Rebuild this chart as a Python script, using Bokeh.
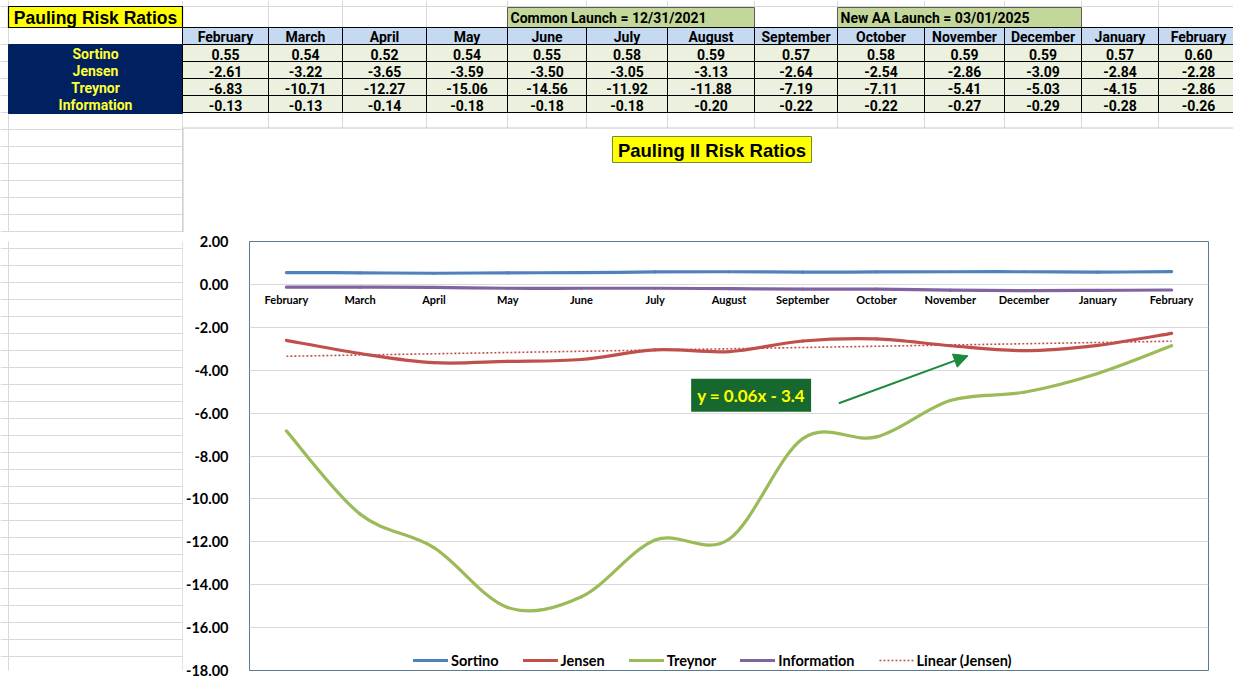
import numpy as np
from bokeh.plotting import figure
from bokeh.models import (Range1d, FixedTicker, NumeralTickFormatter, Legend, LegendItem,
                          Label, Arrow, NormalHead)
from bokeh.layouts import column, row
from bokeh.core.properties import value
from bokeh.embed import file_html
from bokeh.resources import INLINE

# ---------------- data ----------------
months = ["February", "March", "April", "May", "June", "July", "August",
          "September", "October", "November", "December", "January", "February"]
sortino = [0.55, 0.54, 0.52, 0.54, 0.55, 0.58, 0.59, 0.57, 0.58, 0.59, 0.59, 0.57, 0.60]
jensen = [-2.61, -3.22, -3.65, -3.59, -3.50, -3.05, -3.13, -2.64, -2.54, -2.86, -3.09, -2.84, -2.28]
treynor = [-6.83, -10.71, -12.27, -15.06, -14.56, -11.92, -11.88, -7.19, -7.11, -5.41, -5.03, -4.15, -2.86]
information = [-0.13, -0.13, -0.14, -0.18, -0.18, -0.18, -0.20, -0.22, -0.22, -0.27, -0.29, -0.28, -0.26]
series_names = ["Sortino", "Jensen", "Treynor", "Information"]
y_ticks = [2, 0, -2, -4, -6, -8, -10, -12, -14, -16, -18]
table_title = "Pauling Risk Ratios"
chart_title = "Pauling II Risk Ratios"
launch_notes = ["Common Launch = 12/31/2021", "New AA Launch = 03/01/2025"]
trend_name = "Linear (Jensen)"

series_values = [sortino, jensen, treynor, information]

# ---------------- styles / layout ----------------
COLORS = ["#4f81bd", "#c0504d", "#9bbb59", "#8064a2"]
TBL = value("Roboto, 'Liberation Sans', sans-serif")
ARIAL = "'Liberation Sans', Arial, sans-serif"
CAL = "Lato, 'Open Sans', sans-serif"
GRID = "#d9d9d9"
CHART_EDGE = "#c8c8c8"

W, H = 1233, 679
H_TOP = 232                    # top figure: table + chart-title strip
CH_LEFT, CH_TOP = 183, 128     # chart area corner
LEFT_W = CH_LEFT
CH_W, CH_H = W - LEFT_W, H - H_TOP
FRAME_L, FRAME_R, FRAME_T, FRAME_B = 242, 1208, 241, 670
MB_TOP, MB_BOT = FRAME_T - H_TOP, H - FRAME_B

col_edges = np.array([182, 268, 342, 426, 507, 586, 667, 754, 837, 924, 1004, 1081, 1158, 1238])
row_edges = np.array([27, 44, 61, 78, 95, 112])
title_top, title_bot = 6, 27
launch_cols = [(507, 754), (837, 1081)]
sheet_rows = np.array([6, 27, 44, 61, 78, 95, 112] + (129 + 17 * np.arange(34)).tolist())
sheet_cols = np.concatenate([[8], col_edges, [1247]])

# ---------------- top figure ----------------
tf = figure(width=W, height=H_TOP, x_range=Range1d(0, W), y_range=Range1d(H_TOP, 0),
            toolbar_location=None, output_backend="svg", x_axis_location=None,
            y_axis_location=None, min_border=0, outline_line_color=None)
tf.grid.visible = False

# spreadsheet gridlines
tf.segment(x0=0, x1=W, y0=sheet_rows, y1=sheet_rows, line_color=GRID, line_width=1)
tf.segment(x0=sheet_cols, x1=sheet_cols, y0=0, y1=H_TOP, line_color=GRID, line_width=1)

# chart area (white) over the sheet
tf.quad(left=[CH_LEFT - 0.5], right=[W + 5], top=[CH_TOP - 0.5], bottom=[H_TOP + 5],
        fill_color="white", line_color=CHART_EDGE, line_width=1)

# table title box
tf.quad(left=[8], right=[col_edges[0]], top=[title_top], bottom=[title_bot],
        fill_color="#ffff00", line_color="black", line_width=1.2)
tf.text(x=[(8 + col_edges[0]) / 2], y=[(title_top + title_bot) / 2 + 1], text=[table_title],
        text_align="center", text_baseline="middle", text_font=value(ARIAL),
        text_font_style="bold", text_font_size="17.5px", text_color="black")

# launch boxes
for (l, r), note in zip(launch_cols, launch_notes):
    tf.quad(left=[l], right=[r], top=[title_top + 1], bottom=[title_bot],
            fill_color="#c4d79b", line_color="#5a5a5a", line_width=1)
    tf.text(x=[l + 3], y=[(title_top + title_bot) / 2 + 1], text=[note],
            text_align="left", text_baseline="middle", text_font=TBL,
            text_font_style="bold", text_font_size="14px", text_color="black")

lefts, rights = col_edges[:-1], col_edges[1:]
centers = (lefts + rights) / 2

# header row
tf.quad(left=lefts, right=rights, top=row_edges[0], bottom=row_edges[1],
        fill_color="#c5d9f1", line_color="black", line_width=1)
tf.text(x=centers, y=(row_edges[0] + row_edges[1]) / 2 + 1, text=months,
        text_align="center", text_baseline="middle", text_font=TBL,
        text_font_style="bold", text_font_size="14px", text_color="black")

# label block and values
tf.quad(left=[8], right=[col_edges[0]], top=[row_edges[1]], bottom=[row_edges[-1] + 1],
        fill_color="#002060", line_color="#002060")
for r, (name, vals) in enumerate(zip(series_names, series_values)):
    top, bot = row_edges[r + 1], row_edges[r + 2]
    tf.quad(left=lefts, right=rights, top=top, bottom=bot,
            fill_color="#ebf1de", line_color="black", line_width=1)
    tf.text(x=centers, y=(top + bot) / 2 + 1, text=[f"{v:.2f}" for v in vals],
            text_align="center", text_baseline="middle", text_font=TBL,
            text_font_style="bold", text_font_size="14px", text_color="black")
    tf.text(x=[(8 + col_edges[0]) / 2], y=[(top + bot) / 2 + 1], text=[name],
            text_align="center", text_baseline="middle", text_font=TBL,
            text_font_style="bold", text_font_size="14px", text_color="#ffff33")

# chart title box
tf.quad(left=[612], right=[811], top=[136], bottom=[162],
        fill_color="#ffff00", line_color="#6f8b3e", line_width=1)
tf.text(x=[711.5], y=[149.5], text=[chart_title], text_align="center",
        text_baseline="middle", text_font=value(ARIAL), text_font_style="bold",
        text_font_size="18.5px", text_color="black")

# ---------------- left spreadsheet strip (frame aligned with the chart frame) ----------------
lf = figure(width=LEFT_W, height=CH_H, x_range=Range1d(0, LEFT_W),
            y_range=Range1d(FRAME_B, FRAME_T),
            toolbar_location=None, output_backend="svg", x_axis_location=None,
            y_axis_location=None, min_border_left=0, min_border_right=0,
            min_border_top=MB_TOP, min_border_bottom=MB_BOT, outline_line_color=None)
lf.grid.visible = False
lf.segment(x0=0, x1=LEFT_W, y0=sheet_rows, y1=sheet_rows, line_color=GRID, line_width=1)
lf.segment(x0=[8, LEFT_W - 0.5], x1=[8, LEFT_W - 0.5], y0=[0, 0], y1=[H, H],
           line_color=[GRID, CHART_EDGE], line_width=1)

# ---------------- chart ----------------
n = len(months)
xs = np.arange(n)
cf = figure(width=CH_W, height=CH_H, x_range=Range1d(-0.5, n - 0.5), y_range=Range1d(-18, 2),
            toolbar_location=None, output_backend="svg",
            min_border_left=FRAME_L - CH_LEFT, min_border_right=W - FRAME_R,
            min_border_top=MB_TOP, min_border_bottom=MB_BOT,
            background_fill_color="white", border_fill_color="white",
            outline_line_color="#587b92", outline_line_width=1)

cf.xaxis.ticker = FixedTicker(ticks=list(range(n)))
cf.xaxis.major_label_overrides = {i: m for i, m in enumerate(months)}
cf.xaxis.fixed_location = 0
cf.xaxis.axis_line_color = None
cf.xaxis.major_tick_line_color = None
cf.xaxis.minor_tick_line_color = None
cf.xaxis.major_label_standoff = 3
cf.xaxis.major_label_text_font = CAL
cf.xaxis.major_label_text_font_style = "bold"
cf.xaxis.major_label_text_font_size = "11px"
cf.xaxis.major_label_text_color = "black"

cf.yaxis.ticker = FixedTicker(ticks=y_ticks)
cf.yaxis.formatter = NumeralTickFormatter(format="0.00")
cf.yaxis.axis_line_color = None
cf.yaxis.major_tick_line_color = None
cf.yaxis.minor_tick_line_color = None
cf.yaxis.major_label_standoff = 15
cf.yaxis.major_label_text_font = CAL
cf.yaxis.major_label_text_font_style = "bold"
cf.yaxis.major_label_text_font_size = "14.5px"
cf.yaxis.major_label_text_color = "black"

cf.xgrid.visible = False
cf.ygrid.ticker = FixedTicker(ticks=y_ticks)
cf.ygrid.grid_line_color = GRID


def smooth_segments(ys):
    """Bezier control points for an Excel-style smoothed line through the data."""
    ys = np.asarray(ys, dtype=float)
    m = len(ys)
    i0 = np.arange(m - 1)
    i1 = i0 + 1
    prev_i = np.clip(i0 - 1, 0, m - 1)
    next_i = np.clip(i0 + 2, 0, m - 1)
    return dict(
        x0=xs[i0], y0=ys[i0], x1=xs[i1], y1=ys[i1],
        cx0=xs[i0] + (xs[i1] - xs[prev_i]) / 6, cy0=ys[i0] + (ys[i1] - ys[prev_i]) / 6,
        cx1=xs[i1] - (xs[next_i] - xs[i0]) / 6, cy1=ys[i1] - (ys[next_i] - ys[i0]) / 6,
    )


renderers = []
for vals, col in zip(series_values, COLORS):
    r = cf.bezier(**smooth_segments(vals), line_color=col, line_width=3.2, line_cap="round")
    renderers.append(r)

# linear trendline of Jensen (x = 1..n as in the spreadsheet)
coef = np.polyfit(xs + 1, jensen, 1)
trend = np.polyval(coef, xs + 1)
tr = cf.line(x=xs, y=trend, line_color=COLORS[1], line_width=1.6, line_dash="2 2")
renderers.append(tr)

legend = Legend(items=[LegendItem(label=nm, renderers=[r])
                       for nm, r in zip(series_names + [trend_name], renderers)],
                orientation="horizontal", location=(164, 1), padding=0, margin=0,
                spacing=24, label_standoff=3, glyph_width=35, glyph_height=18,
                label_height=18, border_line_color=None, background_fill_alpha=0,
                label_text_font=CAL, label_text_font_style="bold",
                label_text_font_size="14.5px", label_text_color="black")
cf.add_layout(legend)

# trendline equation and arrow
eq_text = f"y = {coef[0]:.2f}x - {abs(coef[1]):.1f}"
cf.add_layout(Label(x=6.30, y=-5.17, text=eq_text, text_align="center",
                    text_baseline="middle", text_font=CAL, text_font_style="bold",
                    text_font_size="17px", text_color="#ffff00",
                    background_fill_color="#17682f", padding=6))
green = "#1a8a3e"
cf.add_layout(Arrow(end=NormalHead(size=14, fill_color=green, line_color=green),
                    x_start=7.49, y_start=-5.54, x_end=9.24, y_end=-3.33,
                    line_color=green, line_width=2))

layout = column(tf, row(lf, cf))
open("out.html", "w").write(file_html(layout, INLINE))
